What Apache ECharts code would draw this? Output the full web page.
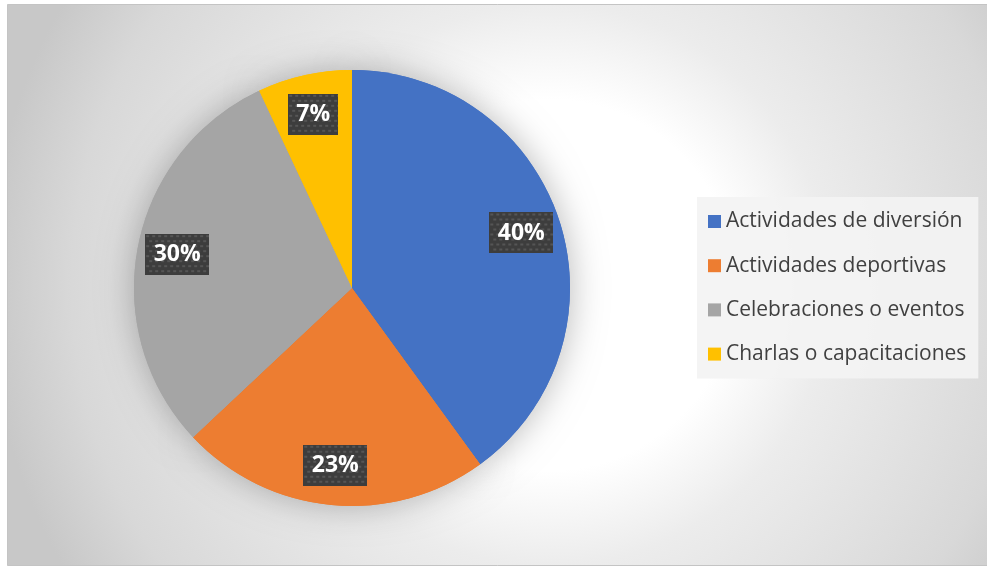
<!DOCTYPE html>
<html>
<head>
<meta charset="utf-8">
<script src="https://cdn.jsdelivr.net/npm/echarts@6/dist/echarts.min.js"></script>
<style>
html,body{margin:0;padding:0;background:#fff;}
#chart{width:987px;height:568px;}
</style>
</head>
<body>
<div id="chart"></div>
<script>
var categories = ['Actividades de diversión', 'Actividades deportivas', 'Celebraciones o eventos', 'Charlas o capacitaciones'];
var values = [40, 23, 30, 7];
var colors = ['#4472C4', '#ED7D31', '#A5A5A5', '#FFC000'];

function pattern(w, h) {
  var c = document.createElement('canvas');
  c.width = w; c.height = h;
  var ctx = c.getContext('2d');
  ctx.fillStyle = '#3d3d3d';
  ctx.fillRect(0, 0, w, h);
  ctx.fillStyle = '#555555';
  var i = 0;
  for (var y = 1; y < h; y += 5, i++) {
    for (var x = (i % 2) * 3 + 1; x < w; x += 6) {
      ctx.fillRect(x, y, 3, 2);
    }
  }
  return c;
}

var mainData = categories.map(function (n, i) {
  return { name: n, value: values[i], itemStyle: { color: colors[i] } };
});
var shadowData = categories.map(function (n, i) {
  return { name: n, value: values[i], itemStyle: { color: colors[i] } };
});
var total = values.reduce(function (a, b) { return a + b; }, 0);
var labelData = categories.map(function (n, i) {
  var txt = Math.round(values[i] / total * 100) + '%';
  var tw = (txt.length - 1) * 14 + 18;
  return {
    name: n, value: values[i],
    label: {
      width: tw,
      backgroundColor: { image: pattern(tw + 18, 41) }
    }
  };
});

var chart = echarts.init(document.getElementById('chart'), null, { renderer: 'canvas' });
chart.setOption({
  animation: false,
  graphic: [{
    type: 'rect',
    z: -10,
    silent: true,
    shape: { x: 7.5, y: 4.5, width: 985, height: 561 },
    style: {
      fill: new echarts.graphic.RadialGradient(0.55, 0.5, 1.0, [
        { offset: 0, color: '#ffffff' },
        { offset: 0.33, color: '#ffffff' },
        { offset: 0.5, color: '#ececec' },
        { offset: 0.85, color: '#d8d8d8' },
        { offset: 1, color: '#c8c8c8' }
      ]),
      stroke: '#c4c4c4',
      lineWidth: 1
    }
  }],
  legend: {
    orient: 'vertical',
    left: 697,
    top: 197,
    padding: [14, 12, 14, 11],
    itemGap: 23.2,
    itemWidth: 13,
    itemHeight: 13,
    icon: 'rect',
    backgroundColor: 'rgba(243,243,243,0.92)',
    textStyle: { fontFamily: 'Open Sans', fontSize: 21, color: '#404040' },
    data: categories.map(function (n, i) { return { name: n, itemStyle: { color: colors[i] } }; })
  },
  series: [
    {
      type: 'pie',
      name: 'main',
      z: 3,
      center: [352, 288],
      radius: 218,
      startAngle: 90,
      clockwise: true,
      silent: true,
      label: { show: false },
      labelLine: { show: false },
      itemStyle: { borderWidth: 0 },
      data: mainData
    },
    {
      type: 'pie',
      name: 'shadow',
      z: 2,
      center: [352, 288],
      radius: 218,
      startAngle: 90,
      silent: true,
      label: { show: false },
      labelLine: { show: false },
      itemStyle: { shadowBlur: 35, shadowColor: 'rgba(0,0,0,0.28)' },
      data: shadowData
    },
    {
      type: 'pie',
      name: 'labels',
      z: 4,
      center: [352, 288],
      radius: 350,
      startAngle: 90,
      silent: true,
      itemStyle: { color: 'rgba(0,0,0,0)', opacity: 0 },
      labelLine: { show: false },
      label: {
        show: true,
        position: 'inside',
        opacity: 1,
        overflow: 'none',
        formatter: function (p) { return Math.round(p.percent) + '%'; },
        fontFamily: 'Open Sans',
        fontWeight: 'bold',
        fontSize: 23,
        lineHeight: 23,
        color: '#ffffff',
        align: 'center',
        padding: [9, 9, 9, 9],
        shadowColor: 'rgba(0,0,0,0.45)',
        shadowBlur: 5,
        shadowOffsetX: 3,
        shadowOffsetY: 3
      },
      data: labelData
    }
  ]
});
</script>
</body>
</html>
